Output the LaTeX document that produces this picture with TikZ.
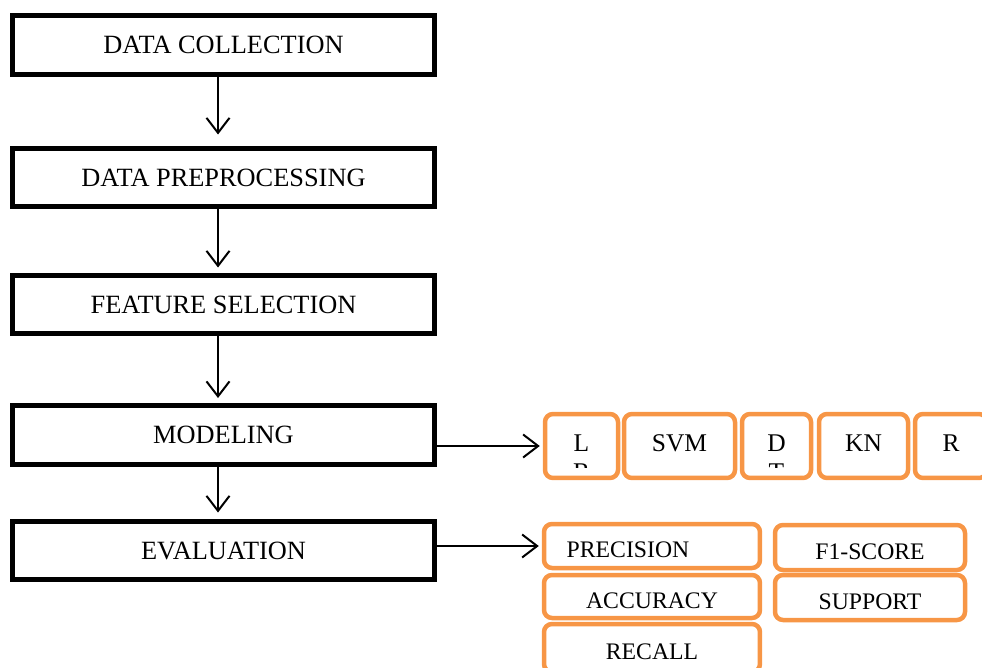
\documentclass[tikz,border=0pt]{standalone}
\usepackage{fontspec}
\setmainfont{Liberation Serif}
\usetikzlibrary{arrows.meta}
\definecolor{orng}{HTML}{F79646}

\begin{document}
\begin{tikzpicture}[x=0.02cm,y=-0.02cm,
  stage/.style={draw=black,line width=0.1cm,minimum width=8.44cm,minimum height=1.18cm,inner sep=0pt,font=\fontsize{15}{18}\selectfont},
  algo/.style={draw=orng,line width=0.09cm,rounded corners=0.16cm,minimum height=1.28cm,inner sep=0pt,font=\fontsize{14.5}{17}\selectfont,text height=0.34cm,text depth=0.12cm},
  metric/.style={draw=orng,line width=0.09cm,rounded corners=0.16cm,inner sep=0pt,font=\fontsize{13.5}{16}\selectfont,text height=0.46cm,text depth=0pt},
  flow/.style={line width=0.04cm,-{Straight Barb[length=0.3cm,width=0.46cm]}}]
  %%%%% START %%%%%
  \def\xs{223.5}
  \def\ya{446}
  \def\dx{-0.11cm}
  \useasboundingbox (0,0) rectangle (982,668);
  \clip (0,0) rectangle (982,668);

  % pipeline
  \node[stage] (collect) at (\xs,45) {DATA COLLECTION};
  \node[stage] (prep) at (\xs,177.5) {DATA PREPROCESSING};
  \node[stage] (feat) at (\xs,304.5) {FEATURE SELECTION};
  \node[stage] (model) at (\xs,435) {MODELING};
  \node[stage] (eval) at (\xs,550.5) {EVALUATION};

  \draw[flow,shorten >=0.22cm] ([xshift=\dx]collect.south) -- ([xshift=\dx]prep.north);
  \draw[flow,shorten >=0.1cm] ([xshift=\dx]prep.south) -- ([xshift=\dx]feat.north);
  \draw[flow,shorten >=0.1cm] ([xshift=\dx]feat.south) -- ([xshift=\dx]model.north);
  \draw[flow,shorten >=0.12cm] ([xshift=\dx]model.south) -- ([xshift=\dx]eval.north);

  % models
  \node[algo,minimum width=1.46cm] (lr) at (581.5,\ya) {};
  \node[algo,minimum width=2.22cm] (svm) at (679.5,\ya) {SVM};
  \node[algo,minimum width=1.38cm] (dt) at (776.5,\ya) {};
  \node[algo,minimum width=1.78cm] (kn) at (863.5,\ya) {KN};
  \node[algo,minimum width=1.44cm] (rf) at (951,\ya) {R};

  \begin{scope}
    \clip (lr.north west) rectangle (lr.east |- 0,467);
    \node[anchor=north,inner sep=0pt,align=center,font=\fontsize{14.5}{17}\selectfont] (lrtext) at (581.5,434) {L\\R};
  \end{scope}
  \begin{scope}
    \clip (dt.north west) rectangle (dt.east |- 0,467);
    \node[anchor=north,inner sep=0pt,align=center,font=\fontsize{14.5}{17}\selectfont] (dttext) at (776.5,434) {D\\T};
  \end{scope}

  % metrics
  \node[metric,minimum width=4.32cm,minimum height=0.88cm] (prec) at (652,546) {PRECISION\hspace*{0.96cm}};
  \node[metric,minimum width=3.8cm,minimum height=0.9cm] (f1) at (870,547.5) {F1-SCORE};
  \node[metric,minimum width=4.32cm,minimum height=0.86cm] (acc) at (652,596.5) {ACCURACY};
  \node[metric,minimum width=3.8cm,minimum height=0.9cm] (supp) at (870,597.5) {SUPPORT};
  \node[metric,minimum width=4.32cm,minimum height=0.96cm] (rec) at (652,648) {RECALL};

  \draw[flow,shorten >=0.06cm] (model.east |- lr.west) -- (lr.west);
  \draw[flow,shorten >=0.06cm] (eval.east |- prec.west) -- (prec.west);
  %%%%% END %%%%%
\end{tikzpicture}
\end{document}
